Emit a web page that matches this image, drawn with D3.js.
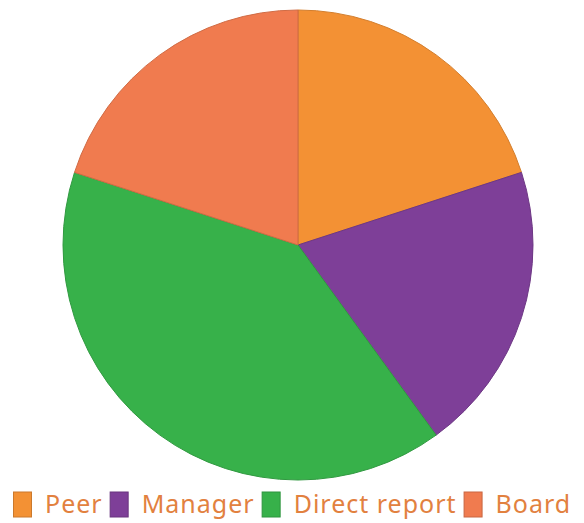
<!DOCTYPE html>
<html>
<head>
<meta charset="utf-8">
<script src="https://cdn.jsdelivr.net/npm/d3@7.9.0/dist/d3.min.js"></script>
<style>
  html, body { margin: 0; padding: 0; background: #fff; }
  svg { display: block; }
</style>
</head>
<body>
<div id="chart"></div>
<script>
// Chart data
const labels = ["Peer", "Manager", "Direct report", "Board"];
const values = [20, 20, 40, 20];
const colors = ["#F39134", "#7E3F98", "#37B14A", "#F07B4F"];

const width = 584;
const height = 523;
const cx = 298, cy = 245, radius = 235;

const svg = d3.select("#chart")
  .append("svg")
  .attr("width", width)
  .attr("height", height);

const data = labels.map((l, i) => ({ label: l, value: values[i], color: colors[i] }));

const pie = d3.pie().sort(null).value(d => d.value);
const arc = d3.arc().innerRadius(0).outerRadius(radius);

// slices
svg.append("g")
  .attr("transform", `translate(${cx},${cy})`)
  .selectAll("path")
  .data(pie(data))
  .join("path")
  .attr("d", arc)
  .attr("fill", d => d.data.color)
  .attr("stroke", d => d3.color(d.data.color).darker(0.4))
  .attr("stroke-width", 1);

// legend
const legend = svg.append("g").attr("class", "legend");
const fontSize = 25;
const boxW = 18, boxH = 25, boxGap = 14, itemGap = 7;

const items = legend.selectAll("g")
  .data(data)
  .join("g");

items.append("rect")
  .attr("width", boxW)
  .attr("height", boxH)
  .attr("y", 492)
  .attr("fill", d => d.color)
  .attr("stroke", d => d3.color(d.color).darker(0.5))
  .attr("stroke-width", 1);

items.append("text")
  .attr("y", 513)
  .attr("fill", "#E2813F")
  .style("font-family", "'Noto Sans', sans-serif")
  .style("font-size", fontSize + "px")
  .style("letter-spacing", "1px")
  .text(d => d.label);

// lay out items horizontally using measured text widths
let x = 13;
items.each(function () {
  const g = d3.select(this);
  g.select("rect").attr("x", x + 0.5);
  const t = g.select("text").attr("x", x + boxW + boxGap);
  x += boxW + boxGap + t.node().getComputedTextLength() + itemGap;
});
</script>
</body>
</html>
